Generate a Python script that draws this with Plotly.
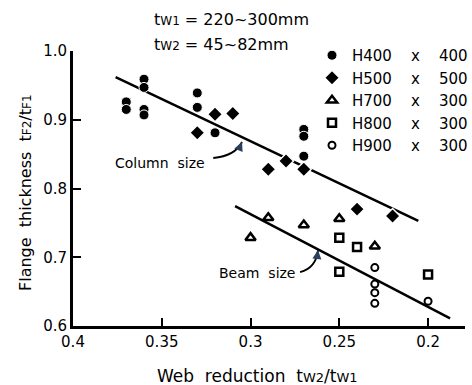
import plotly.graph_objects as go

# ---- data ----
h400_x = [0.37, 0.37, 0.36, 0.36, 0.36, 0.36, 0.33, 0.33, 0.32, 0.27, 0.27, 0.27]
h400_y = [0.926, 0.915, 0.959, 0.947, 0.915, 0.907, 0.939, 0.918, 0.881, 0.886, 0.876, 0.847]

h500_x = [0.33, 0.32, 0.31, 0.29, 0.28, 0.27, 0.24, 0.22]
h500_y = [0.881, 0.908, 0.909, 0.828, 0.840, 0.828, 0.770, 0.760]

h700_x = [0.30, 0.29, 0.27, 0.25, 0.23]
h700_y = [0.7285, 0.7575, 0.747, 0.756, 0.716]

h800_x = [0.25, 0.24, 0.25, 0.20]
h800_y = [0.7285, 0.715, 0.679, 0.675]

h900_x = [0.23, 0.23, 0.23, 0.23, 0.20]
h900_y = [0.685, 0.661, 0.6485, 0.633, 0.636]

column_line_x = [0.376, 0.2055]
column_line_y = [0.962, 0.753]
beam_line_x = [0.3087, 0.1876]
beam_line_y = [0.7745, 0.611]

x_ticks = [0.4, 0.35, 0.3, 0.25, 0.2]
x_tick_labels = ["0.4", "0.35", "0.3", "0.25", "0.2"]
y_ticks = [0.6, 0.7, 0.8, 0.9, 1.0]
y_tick_labels = ["0.6", "0.7", "0.8", "0.9", "1.0"]

FONT = "DejaVu Sans"
NB = "\u00a0"

def sm(s, size=12):
    return f"<span style='font-size:{size}px'>{s}</span>"

def lab(a, b):
    return f"H{a}{NB*4}x{NB*4}{b}"

fig = go.Figure()

# fitted lines
fig.add_trace(go.Scatter(x=column_line_x, y=column_line_y, mode="lines",
                         line=dict(color="black", width=2.5), showlegend=False, hoverinfo="skip"))
fig.add_trace(go.Scatter(x=beam_line_x, y=beam_line_y, mode="lines",
                         line=dict(color="black", width=2.5), showlegend=False, hoverinfo="skip"))

# markers
fig.add_trace(go.Scatter(x=h400_x, y=h400_y, mode="markers", name=lab(400, 400),
                         marker=dict(symbol="circle", size=10, color="black",
                                     line=dict(color="white", width=1))))
fig.add_trace(go.Scatter(x=h500_x, y=h500_y, mode="markers", name=lab(500, 500),
                         marker=dict(symbol="diamond", size=11.5, color="black",
                                     line=dict(color="white", width=1.5))))
fig.add_trace(go.Scatter(x=h700_x, y=h700_y, mode="markers", name=lab(700, 300),
                         marker=dict(symbol="triangle-up", size=9, color="white",
                                     line=dict(color="black", width=2.5))))
fig.add_trace(go.Scatter(x=h800_x, y=h800_y, mode="markers", name=lab(800, 300),
                         marker=dict(symbol="square", size=8, color="white",
                                     line=dict(color="black", width=2.5))))
fig.add_trace(go.Scatter(x=h900_x, y=h900_y, mode="markers", name=lab(900, 300),
                         marker=dict(symbol="circle", size=7, color="white",
                                     line=dict(color="black", width=2))))

# curved arrows
fig.add_shape(type="path", xref="x", yref="y",
              path="M 0.321,0.8444 Q 0.3087,0.8473 0.3048,0.8676",
              line=dict(color="black", width=1.8))
fig.add_shape(type="path", xref="x", yref="y",
              path="M 0.2721,0.6785 Q 0.2631,0.6844 0.262,0.7105",
              line=dict(color="black", width=1.8))
fig.add_annotation(x=0.3048, y=0.8676, text="", showarrow=True, arrowhead=2,
                   arrowsize=1, arrowwidth=1.8, ax=-3, ay=7, xref="x", yref="y")
fig.add_annotation(x=0.262, y=0.7105, text="", showarrow=True, arrowhead=2,
                   arrowsize=1, arrowwidth=1.8, ax=-1, ay=8, xref="x", yref="y")

# labels
fig.add_annotation(x=0.351, y=0.837, xref="x", yref="y", text=f"Column{NB*2}size",
                   showarrow=False, font=dict(family=FONT, size=14, color="black"))
fig.add_annotation(x=0.2963, y=0.677, xref="x", yref="y", text=f"Beam{NB*2}size",
                   showarrow=False, font=dict(family=FONT, size=14, color="black"))

# header text
fig.add_annotation(x=(152 - 73) / 392, y=(326 - 20) / 275, xref="paper", yref="paper",
                   xanchor="left", yanchor="middle", showarrow=False,
                   text=f"t{sm('W1')} = 220~300mm",
                   font=dict(family=FONT, size=16, color="black"))
fig.add_annotation(x=(152 - 73) / 392, y=(326 - 44) / 275, xref="paper", yref="paper",
                   xanchor="left", yanchor="middle", showarrow=False,
                   text=f"t{sm('W2')} = 45~82mm",
                   font=dict(family=FONT, size=16, color="black"))

# axis titles
fig.add_annotation(x=(257 - 73) / 392, y=(326 - 376) / 275, xref="paper", yref="paper",
                   xanchor="center", yanchor="middle", showarrow=False,
                   text=f"Web{NB*2}reduction{NB*2}t{sm('W2', 13)}/t{sm('W1', 13)}",
                   font=dict(family=FONT, size=17, color="black"))
fig.add_annotation(x=(25 - 73) / 392, y=(326 - 193) / 275, xref="paper", yref="paper",
                   xanchor="center", yanchor="middle", showarrow=False, textangle=-90,
                   text=f"Flange{NB*2}thickness{NB*2}t{sm('F2', 12)}/t{sm('F1', 12)}",
                   font=dict(family=FONT, size=16, color="black"))

fig.update_xaxes(range=[0.4, 0.1792], tickvals=x_ticks, ticktext=x_tick_labels,
                 ticks="inside", ticklen=8, tickwidth=2, tickcolor="black",
                 showline=True, linewidth=3, linecolor="black", showgrid=False,
                 zeroline=False, tickfont=dict(family=FONT, size=15, color="black"))
fig.update_yaxes(range=[0.6, 1.0], tickvals=y_ticks, ticktext=y_tick_labels,
                 ticks="inside", ticklen=8, tickwidth=2, tickcolor="black",
                 showline=True, linewidth=3, linecolor="black", showgrid=False,
                 zeroline=False, tickfont=dict(family=FONT, size=15, color="black"))

fig.update_layout(
    width=472, height=385,
    margin=dict(l=73, r=7, t=51, b=59, autoexpand=False),
    paper_bgcolor="white", plot_bgcolor="white",
    font=dict(family=FONT, color="black"),
    showlegend=True,
    legend=dict(x=(312 - 73) / 392, y=(326 - 39) / 275, xanchor="left", yanchor="top",
                bgcolor="rgba(0,0,0,0)", font=dict(family=FONT, size=15, color="black"),
                tracegroupgap=0, borderwidth=0),
)

fig.write_html("out.html")
